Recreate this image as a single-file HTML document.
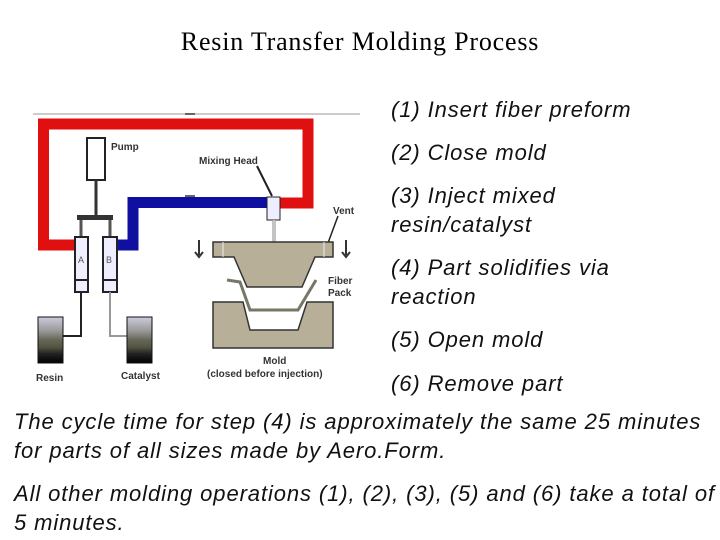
<!DOCTYPE html>
<html><head><style>
body{margin:0;width:720px;height:540px;background:#fff;position:relative;overflow:hidden;font-family:"Liberation Sans",sans-serif}
.t{position:absolute;font-style:italic;font-size:22px;letter-spacing:0.9px;color:#111;line-height:29px;white-space:nowrap}
</style></head><body>
<div style="position:absolute;left:0;width:720px;top:27px;text-align:center;font-family:'Liberation Serif',serif;font-size:26px;letter-spacing:0.8px">Resin Transfer Molding Process</div>
<svg width="720" height="540" style="position:absolute;left:0;top:0">
<line x1="33" y1="114" x2="360" y2="114" stroke="#999" stroke-width="1"/>
<path d="M185 114h10" stroke="#333" stroke-width="1.5"/>
<path d="M77 245H43.5V124H308V203H278" fill="none" stroke="#e01010" stroke-width="11"/>
<path d="M115 245H133V202.5H268" fill="none" stroke="#1010a0" stroke-width="11"/>
<path d="M185 196h10" stroke="#333" stroke-width="1.5"/>
<rect x="87" y="138" width="18" height="42" fill="#fff" stroke="#222" stroke-width="2"/>
<line x1="96" y1="180" x2="96" y2="215" stroke="#333" stroke-width="3"/>
<rect x="77" y="215" width="36" height="5" fill="#333"/>
<line x1="81" y1="220" x2="81" y2="237" stroke="#555" stroke-width="3"/>
<line x1="110" y1="220" x2="110" y2="237" stroke="#555" stroke-width="3"/>
<rect x="75" y="237" width="13" height="55" fill="#eef" stroke="#222" stroke-width="2"/>
<rect x="103" y="237" width="14" height="55" fill="#eef" stroke="#222" stroke-width="2"/>
<line x1="75" y1="280" x2="88" y2="280" stroke="#222" stroke-width="2"/>
<line x1="103" y1="280" x2="117" y2="280" stroke="#222" stroke-width="2"/>
<text x="78" y="263" font-size="9" fill="#555">A</text><text x="106" y="263" font-size="9" fill="#555">B</text>
<path d="M81 292V336H63" fill="none" stroke="#222" stroke-width="2"/>
<path d="M110 292V336H127" fill="none" stroke="#999" stroke-width="2"/>
<defs><linearGradient id="g" x1="0" y1="0" x2="0" y2="1">
<stop offset="0" stop-color="#ccd"/><stop offset=".3" stop-color="#999"/><stop offset=".5" stop-color="#665"/><stop offset=".65" stop-color="#554"/><stop offset=".8" stop-color="#222"/><stop offset="1" stop-color="#000"/></linearGradient></defs>
<rect x="38" y="317" width="25" height="46" fill="url(#g)" stroke="#111"/>
<rect x="127" y="317" width="25" height="46" fill="url(#g)" stroke="#111"/>
<text x="36" y="381" font-size="10" font-weight="bold" fill="#333">Resin</text>
<text x="121" y="379" font-size="10" font-weight="bold" fill="#333">Catalyst</text>
<text x="111" y="150" font-size="10" font-weight="bold" fill="#333">Pump</text>
<text x="199" y="164" font-size="10" font-weight="bold" fill="#333">Mixing Head</text>
<line x1="257" y1="166" x2="272" y2="196" stroke="#222" stroke-width="2"/>
<text x="333" y="214" font-size="10" font-weight="bold" fill="#333">Vent</text>
<line x1="338" y1="216" x2="328" y2="243" stroke="#222" stroke-width="1.5"/>
<rect x="267" y="197" width="13" height="23" fill="#eef" stroke="#222"/>
<line x1="274" y1="220" x2="274" y2="287" stroke="#888" stroke-width="3"/>
<line x1="274" y1="220" x2="274" y2="287" stroke="#fff" stroke-width="1"/>
<path d="M213 242H333V257H315L302 287H247L234 257H213Z" fill="#b8af98" stroke="#333" stroke-width="1.5"/>
<line x1="223" y1="242" x2="223" y2="257" stroke="#eee"/><line x1="324" y1="242" x2="324" y2="257" stroke="#eee"/>
<path d="M227 280L240 282L250 310L298 310L316 280" fill="none" stroke="#776" stroke-width="3"/>
<path d="M213 302H243L250 330H298L307 302H333V348H213Z" fill="#b8af98" stroke="#333" stroke-width="1.5"/>
<text x="328" y="284" font-size="10" font-weight="bold" fill="#333">Fiber</text>
<text x="328" y="296" font-size="10" font-weight="bold" fill="#333">Pack</text>
<text x="263" y="364" font-size="10" font-weight="bold" fill="#333">Mold</text>
<text x="207" y="377" font-size="10" font-weight="bold" fill="#333">(closed before injection)</text>
<path d="M199 240v15M195 252l4 5 4-5" fill="none" stroke="#333" stroke-width="2"/>
<path d="M346 240v15M342 252l4 5 4-5" fill="none" stroke="#333" stroke-width="2"/>
</svg>
<div class="t" style="left:391px;top:95px">(1) Insert fiber preform</div>
<div class="t" style="left:391px;top:138px">(2) Close mold</div>
<div class="t" style="left:391px;top:181px">(3) Inject mixed<br>resin/catalyst</div>
<div class="t" style="left:391px;top:253px">(4) Part solidifies via<br>reaction</div>
<div class="t" style="left:391px;top:325px">(5) Open mold</div>
<div class="t" style="left:391px;top:369px">(6) Remove part</div>
<div class="t" style="left:14px;top:407px">The cycle time for step (4) is approximately the same 25 minutes<br>for parts of all sizes made by Aero.Form.</div>
<div class="t" style="left:14px;top:479px">All other molding operations (1), (2), (3), (5) and (6) take a total of<br>5 minutes.</div>
</body></html>
